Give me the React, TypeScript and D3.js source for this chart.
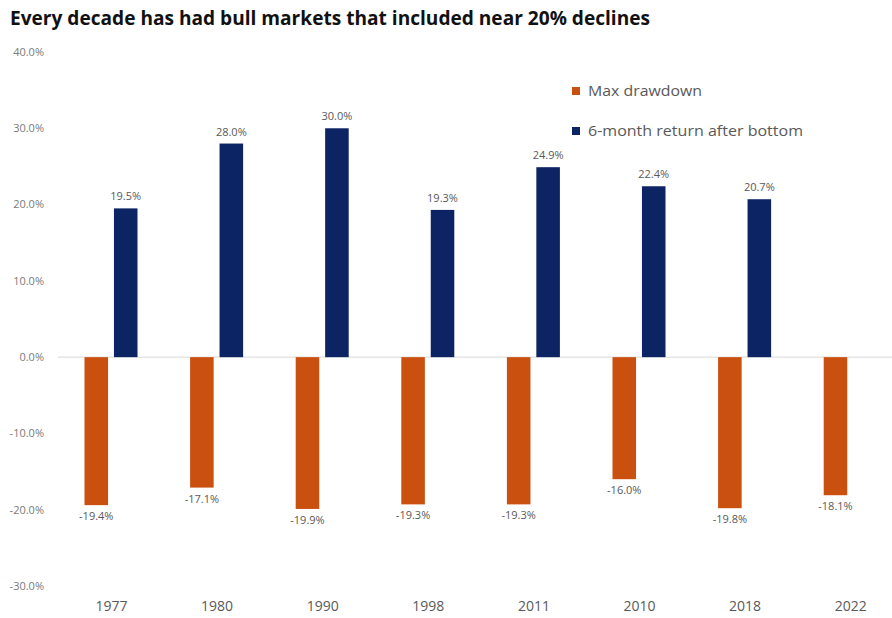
import React from "react";
import * as d3 from "d3";

const categories = ["1977", "1980", "1990", "1998", "2011", "2010", "2018", "2022"];
const maxDrawdown = [-19.4, -17.1, -19.9, -19.3, -19.3, -16.0, -19.8, -18.1];
const sixMonthReturn: (number | null)[] = [19.5, 28.0, 30.0, 19.3, 24.9, 22.4, 20.7, null];
const seriesNames = ["Max drawdown", "6-month return after bottom"];
const yTicks = [40, 30, 20, 10, 0, -10, -20, -30];
const title = "Every decade has had bull markets that included near 20% declines";

const W = 892;
const H = 618;
const ORANGE = "#C9500F";
const NAVY = "#0C2463";
const FONT = "'Open Sans', 'Liberation Sans', sans-serif";

export default function App() {
  const x = d3.scaleBand<string>().domain(categories).range([58.7, 903.5]).padding(0);
  const x1 = d3.scaleBand<string>().domain(seriesNames).range([-27, 26]).paddingInner(0.2);
  const y = d3.scaleLinear().domain([-30, 40]).range([586, 52]);
  const fmt = (v: number) => v.toFixed(1) + "%";
  const cx = (c: string) => (x(c) as number) + x.bandwidth() / 2;

  return (
    <svg width={W} height={H} style={{ position: "absolute", left: 0, top: 0, background: "#fff" }} fontFamily={FONT}>
      <rect x={0} y={0} width={W} height={H} fill="#fff" />
      <text x={10} y={25} fontSize={19} fontWeight="bold" fill="#111" textLength={640} lengthAdjust="spacingAndGlyphs">
        {title}
      </text>
      {yTicks.map((t) => (
        <text key={t} x={44} y={y(t)} dy="0.35em" textAnchor="end" fontSize={11} fill="#7a7a7a">
          {t.toFixed(1) + "%"}
        </text>
      ))}
      <line x1={58} x2={W} y1={y(0)} y2={y(0)} stroke="#d9d9d9" strokeWidth={1} />
      {categories.map((c, i) => {
        const center = cx(c);
        const dd = maxDrawdown[i];
        const rv = sixMonthReturn[i];
        const ox = center + (x1(seriesNames[0]) as number);
        const bx = center + (x1(seriesNames[1]) as number);
        const bw = x1.bandwidth();
        return (
          <g key={c}>
            <rect x={ox} y={y(0)} width={bw} height={y(dd) - y(0)} fill={ORANGE} />
            <text x={ox + bw / 2} y={y(dd) + 15} textAnchor="middle" fontSize={11} fill="#595959">
              {fmt(dd)}
            </text>
            {rv !== null && (
              <>
                <rect x={bx} y={y(rv)} width={bw} height={y(0) - y(rv)} fill={NAVY} />
                <text x={bx + bw / 2} y={y(rv) - 8} textAnchor="middle" fontSize={11} fill="#595959">
                  {fmt(rv)}
                </text>
              </>
            )}
            <text x={center} y={611} textAnchor="middle" fontSize={14} fill="#595959">
              {c}
            </text>
          </g>
        );
      })}
      <g>
        <rect x={572} y={87} width={8} height={8} fill={ORANGE} />
        <text x={588} y={91} dy="0.35em" fontSize={15} fill="#595959" textLength={114} lengthAdjust="spacingAndGlyphs">{seriesNames[0]}</text>
        <rect x={572} y={127} width={8} height={8} fill={NAVY} />
        <text x={588} y={131} dy="0.35em" fontSize={15} fill="#595959" textLength={215} lengthAdjust="spacingAndGlyphs">{seriesNames[1]}</text>
      </g>
    </svg>
  );
}
